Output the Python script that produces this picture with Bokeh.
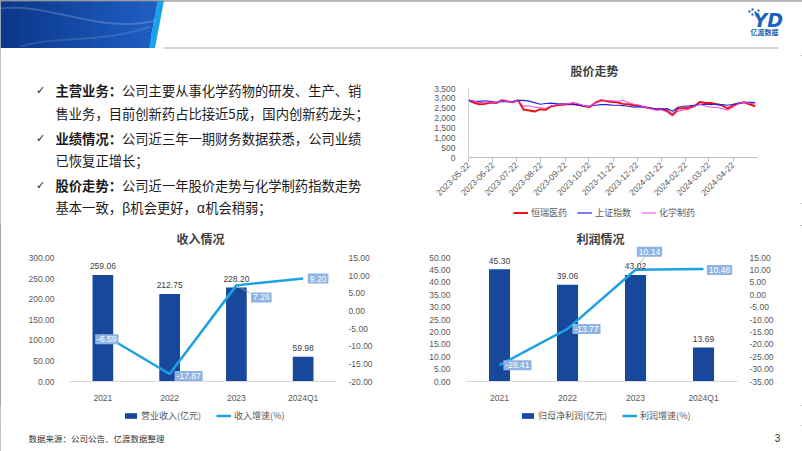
import numpy as np
import pandas as pd
from bokeh.plotting import figure
from bokeh.layouts import column, row
from bokeh.models import (Range1d, FactorRange, LinearAxis, NumeralTickFormatter, FixedTicker,
                          SingleIntervalTicker, Label, LabelSet, ColumnDataSource, Legend,
                          LegendItem, DatetimeTickFormatter)
from bokeh.core.properties import value
from bokeh.embed import file_html
from bokeh.resources import INLINE

# ---------------- data ----------------
years = ["2021", "2022", "2023", "2024Q1"]
revenue = [259.06, 212.75, 228.20, 59.98]
revenue_growth = [-6.59, -17.87, 7.26, 9.20]
profit = [45.30, 39.06, 43.02, 13.69]
profit_growth = [-28.41, -13.77, 10.14, 10.48]
rev_series = ["营业收入(亿元)", "收入增速(%)"]
prof_series = ["归母净利润(亿元)", "利润增速(%)"]

stock_dates = ["2023-05-22", "2023-05-29", "2023-06-05", "2023-06-12", "2023-06-19", "2023-06-26",
               "2023-07-03", "2023-07-10", "2023-07-17", "2023-07-24", "2023-07-31", "2023-08-07",
               "2023-08-14", "2023-08-21", "2023-08-28", "2023-09-04", "2023-09-11", "2023-09-18",
               "2023-09-25", "2023-10-02", "2023-10-09", "2023-10-16", "2023-10-23", "2023-10-30",
               "2023-11-06", "2023-11-13", "2023-11-20", "2023-11-27", "2023-12-04", "2023-12-11",
               "2023-12-18", "2023-12-25", "2024-01-01", "2024-01-08", "2024-01-15", "2024-01-22",
               "2024-01-29", "2024-02-05", "2024-02-12", "2024-02-19", "2024-02-26", "2024-03-04",
               "2024-03-11", "2024-03-18", "2024-03-25", "2024-04-01", "2024-04-08", "2024-04-15",
               "2024-04-22", "2024-04-29", "2024-05-06", "2024-05-13", "2024-05-20"]
hengrui = [2900, 2780, 2700, 2720, 2790, 2760, 2900, 2850, 2800, 2900,
           2430, 2380, 2330, 2450, 2420, 2600, 2650, 2680, 2700, 2700,
           2680, 2600, 2560, 2780, 2900, 2870, 2820, 2800, 2720, 2700,
           2650, 2620, 2550, 2500, 2450, 2460, 2380, 2150, 2480, 2500,
           2520, 2600, 2820, 2760, 2760, 2700, 2650, 2480, 2640, 2750,
           2800, 2700, 2600]
sse = [2900, 2850, 2850, 2880, 2850, 2800, 2850, 2830, 2840, 2900,
       2900, 2860, 2780, 2700, 2740, 2760, 2730, 2720, 2700, 2700,
       2660, 2620, 2600, 2650, 2680, 2680, 2660, 2650, 2630, 2600,
       2560, 2580, 2560, 2500, 2450, 2450, 2480, 2350, 2550, 2600,
       2620, 2650, 2680, 2700, 2680, 2700, 2680, 2650, 2700, 2750,
       2800, 2800, 2780]
chem = [2950, 2850, 2780, 2800, 2820, 2780, 2880, 2850, 2800, 2880,
        2600, 2620, 2550, 2520, 2500, 2620, 2680, 2700, 2720, 2800,
        2720, 2620, 2580, 2750, 2850, 2880, 2880, 2850, 2900, 2800,
        2700, 2650, 2550, 2480, 2400, 2420, 2300, 2100, 2350, 2400,
        2450, 2600, 2700, 2600, 2550, 2550, 2480, 2400, 2550, 2750,
        2800, 2750, 2720]
stock_series = ["恒瑞医药", "上证指数", "化学制药"]
stock_axis_max = 3500
month_ticks = ["2023-05-22", "2023-06-22", "2023-07-22", "2023-08-22", "2023-09-22", "2023-10-22",
               "2023-11-22", "2023-12-22", "2024-01-22", "2024-02-22", "2024-03-22", "2024-04-22"]

bullets = [("主营业务：", "公司主要从事化学药物的研发、生产、销", "售业务，目前创新药占比接近5成，国内创新药龙头；"),
           ("业绩情况：", "公司近三年一期财务数据获悉，公司业绩", "已恢复正增长；"),
           ("股价走势：", "公司近一年股价走势与化学制药指数走势", "基本一致，β机会更好，α机会稍弱；")]

# ---------------- styles ----------------
CJK = "Noto Sans CJK SC"
NUM = "Liberation Sans"
BAR = "#17489C"
LINE = "#1DA1E4"
AXC = "#595959"
LBL_BG = "#8DB4E2"
TITLE_C = "#404040"
STOCK_COLORS = ["#ee1111", "#2323e0", "#ee44ee"]
STOCK_WIDTHS = [2, 1.2, 1]
NAN = float("nan")


def blank(w, h):
    f = figure(width=w, height=h, x_range=Range1d(0, w), y_range=Range1d(h, 0),
               toolbar_location=None, output_backend="svg", min_border=0,
               x_axis_type=None, y_axis_type=None, frame_align=False)
    f.outline_line_color = None
    f.background_fill_color = "white"
    f.border_fill_color = "white"
    return f


def legend_fig(w, h, kinds, labels, colors, widths, loc, spacing):
    """A strip holding only a legend (proxy renderers without visible data)."""
    f = blank(w, h)
    rends = []
    for kind, c, lw in zip(kinds, colors, widths):
        if kind == "bar":
            rends.append(f.vbar(x=[NAN], top=[NAN], width=1, fill_color=c, line_color=None))
        else:
            rends.append(f.line(x=[NAN, NAN], y=[NAN, NAN], line_color=c, line_width=lw))
    leg = Legend(items=[LegendItem(label=l, renderers=[r]) for l, r in zip(labels, rends)],
                 location=loc, orientation="horizontal", padding=0, margin=0, spacing=spacing,
                 glyph_width=15, glyph_height=7, label_standoff=3, border_line_color=None,
                 background_fill_alpha=0, label_text_font=CJK, label_text_font_size="9px",
                 label_text_color=AXC)
    f.add_layout(leg)
    return f


# ---------------- header ----------------
hdr = blank(802, 55)
c0 = np.array([11, 56, 138])
c1 = np.array([30, 92, 192])
nstrip = 15
for i in range(nstrip):
    t = i / (nstrip - 1)
    c = tuple(int(v) for v in (c0 * (1 - t) + c1 * t))
    hdr.quad(left=i * 10, right=i * 10 + 10.5, top=0, bottom=47.5,
             fill_color="#%02x%02x%02x" % c, line_color=None)
hdr.patch([148, 157.5, 148.5, 148], [0, 0, 47.5, 47.5], fill_color="#1e5cc0", line_color=None)
hdr.patch([157, 163.5, 154.5, 148.5], [0, 0, 47.5, 47.5], fill_color="#1aa3ea", line_color=None)
hdr.bezier(x0=[0], y0=[8], x1=[155], y1=[20], cx0=[50], cy0=[2], cx1=[100], cy1=[34],
           line_color="white", line_alpha=0.18, line_width=2)
hdr.bezier(x0=[20], y0=[46], x1=[150], y1=[26], cx0=[60], cy0=[34], cx1=[100], cy1=[44],
           line_color="white", line_alpha=0.12, line_width=2)
hdr.line([0, 802], [0.5, 0.5], line_color="#7f7f7f", line_width=1)
hdr.line([163, 778], [47.5, 47.5], line_color="#c8c8c8", line_width=1.5)
hdr.quad(left=[748, 751, 754, 751, 755, 757], right=[750, 753, 756, 753, 757, 759],
         top=[10, 8, 11, 13, 14, 9], bottom=[12, 10, 13, 15, 16, 11], fill_color="#1a5fb4",
         line_color=None)
hdr.text(x=[753], y=[19], text=["YD"], text_font=value("DejaVu Sans"), text_font_size="19px",
         text_font_style="bold italic", text_color="#1a62c0", text_baseline="middle")
hdr.text(x=[764], y=[31.5], text=["亿渡数据"], text_font=value(CJK), text_font_size="7px",
         text_font_style="bold", text_color="#1a5fb4", text_align="center", text_baseline="middle")

# ---------------- text block ----------------
txt = blank(418, 170)
line_y = [35, 58, 83, 105, 130, 152]
FS = 13.3
for k, (head, body1, body2) in enumerate(bullets):
    y1, y2 = line_y[2 * k], line_y[2 * k + 1]
    txt.text(x=[40], y=[y1], text=["✓"], text_font=value("DejaVu Sans"), text_font_size="11px",
             text_color="#222222", text_baseline="middle", text_align="center")
    txt.text(x=[55], y=[y1], text=[head], text_font=value(CJK), text_font_size=f"{FS}px",
             text_font_style="bold", text_color="#1a1a1a", text_baseline="middle")
    txt.text(x=[55 + FS * len(head)], y=[y1], text=[body1], text_font=value(CJK),
             text_font_size=f"{FS}px", text_color="#1a1a1a", text_baseline="middle")
    txt.text(x=[55], y=[y2], text=[body2], text_font=value(CJK), text_font_size=f"{FS}px",
             text_color="#1a1a1a", text_baseline="middle")

# ---------------- stock chart ----------------
S_H = 148
S_FRAME_H = 102   # frame height (px); axis 0..3500 occupies the lowest 69 px
S_AXIS_H = 69
dates = pd.to_datetime(stock_dates)
x0, x1 = pd.Timestamp("2023-05-22"), pd.Timestamp("2024-05-23")
stk = figure(width=384, height=S_H, x_axis_type="datetime", x_range=Range1d(x0, x1),
             y_range=Range1d(0, stock_axis_max * S_FRAME_H / S_AXIS_H),
             toolbar_location=None, output_backend="svg", frame_align=False,
             min_border_left=50, min_border_right=45, min_border_top=0,
             min_border_bottom=S_H - S_FRAME_H)
stk.xgrid.visible = False
stk.ygrid.visible = False
stk.outline_line_color = None
for series, c, lw in zip([hengrui, sse, chem], STOCK_COLORS, STOCK_WIDTHS):
    stk.line(dates, series, line_color=c, line_width=lw)
xa = stk.xaxis[0]
xa.ticker = FixedTicker(ticks=[pd.Timestamp(d).timestamp() * 1000 for d in month_ticks])
fmt = "%Y-%m-%d"
xa.formatter = DatetimeTickFormatter(days=fmt, months=fmt, years=fmt, hours=fmt, minutes=fmt,
                                     hourmin=fmt, seconds=fmt, milliseconds=fmt, minsec=fmt)
xa.major_label_orientation = np.pi / 4
xa.axis_line_color = "#bfbfbf"
xa.major_tick_line_color = "#bfbfbf"
xa.major_tick_out = 4
xa.major_tick_in = 0
xa.minor_tick_line_color = None
xa.major_label_text_font = NUM
xa.major_label_text_font_size = "8.5px"
xa.major_label_text_color = AXC
xa.major_label_standoff = 2
ya = stk.yaxis[0]
ya.ticker = SingleIntervalTicker(interval=500)
ya.bounds = (0, stock_axis_max)
ya.formatter = NumeralTickFormatter(format="0,0")
ya.axis_line_color = "#d0d0d0"
ya.major_tick_line_color = None
ya.minor_tick_line_color = None
ya.major_label_text_font = NUM
ya.major_label_text_font_size = "8.5px"
ya.major_label_text_color = AXC
ya.major_label_standoff = 7
stk.add_layout(Label(x=x0 + (x1 - x0) / 2, y=stock_axis_max * S_FRAME_H / S_AXIS_H,
                     x_offset=-18.5, y_offset=-15, text="股价走势",
                     text_font=CJK, text_font_size="12px", text_font_style="bold",
                     text_color=TITLE_C, text_align="center", text_baseline="middle"))
stk_leg = legend_fig(384, 170 - S_H, ["line"] * 3, stock_series, STOCK_COLORS, STOCK_WIDTHS,
                     (95, 6), 10)


# ---------------- combo charts ----------------
C_H = 180
C_FRAME_H = 158


def combo(width, vals, growth, left_max, left_step, right_rng, mleft, mright, axis_h,
          lbl_offsets, leaders, title, title_dx):
    k = C_FRAME_H / axis_h
    rmin, rmax = right_rng
    p = figure(width=width, height=C_H, x_range=FactorRange(*years),
               y_range=Range1d(0, left_max * k), toolbar_location=None, output_backend="svg",
               frame_align=False, min_border_left=mleft, min_border_right=mright,
               min_border_top=0, min_border_bottom=C_H - C_FRAME_H)
    p.xgrid.visible = False
    p.ygrid.visible = False
    p.outline_line_color = None
    p.extra_y_ranges = {"pct": Range1d(rmin, rmin + (rmax - rmin) * k)}
    src = ColumnDataSource(dict(x=years, top=vals, lbl=[f"{v:.2f}" for v in vals]))
    p.vbar(x="x", top="top", width=0.31, source=src, fill_color=BAR, line_color=None)
    # thin leader lines from some points to their (displaced) data labels
    cat_px = (width - mleft - mright) / len(years)
    pct_px = (rmax - rmin) / axis_h
    lx0, ly0, lx1, ly1 = [], [], [], []
    for i, (g, ld) in enumerate(zip(growth, leaders)):
        if ld is not None:
            lx0.append(i + 0.5)
            ly0.append(g)
            lx1.append(i + 0.5 + ld[0] / cat_px)
            ly1.append(g + ld[1] * pct_px)
    if lx0:
        p.segment(x0=lx0, y0=ly0, x1=lx1, y1=ly1, y_range_name="pct", line_color="#a6a6a6",
                  line_width=0.8)
    p.line(x=years, y=growth, y_range_name="pct", line_color=LINE, line_width=2.5)
    la = p.yaxis[0]
    la.ticker = SingleIntervalTicker(interval=left_step)
    la.bounds = (0, left_max)
    ra = LinearAxis(y_range_name="pct", ticker=SingleIntervalTicker(interval=5), bounds=(rmin, rmax))
    p.add_layout(ra, "right")
    for ax, so in ((la, 9), (ra, 6)):
        ax.formatter = NumeralTickFormatter(format="0.00")
        ax.axis_line_color = None
        ax.major_tick_line_color = None
        ax.minor_tick_line_color = None
        ax.major_label_text_font = NUM
        ax.major_label_text_font_size = "8.5px"
        ax.major_label_text_color = AXC
        ax.major_label_standoff = so
    xa = p.xaxis[0]
    xa.axis_line_color = "#d9d9d9"
    xa.major_tick_line_color = None
    xa.major_label_text_font = NUM
    xa.major_label_text_font_size = "8.5px"
    xa.major_label_text_color = AXC
    xa.major_label_standoff = 5
    p.add_layout(LabelSet(x="x", y="top", text="lbl", source=src, text_align="center",
                          text_baseline="middle", y_offset=8.5, text_font=value(NUM),
                          text_font_size="8.5px", text_color=TITLE_C))
    for i, (g, (dx, dy)) in enumerate(zip(growth, lbl_offsets)):
        # categorical synthetic coordinate: centre of the i-th factor
        p.add_layout(Label(x=i + 0.5, y=g, y_range_name="pct", text=f"{g:.2f}", x_offset=dx,
                           y_offset=dy, text_align="center", text_baseline="middle",
                           text_color="white", text_font=NUM, text_font_size="8.5px",
                           background_fill_color=LBL_BG, padding=2))
    p.add_layout(Label(x=len(years) / 2, y=left_max * k, x_offset=title_dx, y_offset=-13,
                       text=title, text_font=CJK, text_font_size="12px", text_font_style="bold",
                       text_color=TITLE_C, text_align="center", text_baseline="middle"))
    return p


rev = combo(405, revenue, revenue_growth, 300, 50, (-20, 15), 69, 69, 125,
            [(4, -5), (19, -2), (25, -12), (15, 0)], [None, None, (14, -8), None],
            "收入情况", -2.5)
prf = combo(397, profit, profit_growth, 50, 5, (-35, 15), 60, 65, 125.4,
            [(18, 0), (19, 0), (14, 18), (16, -1)], [None, None, (9, 13), None],
            "利润情况", -1)
rev_leg = legend_fig(405, 200 - C_H, ["bar", "line"], rev_series, [BAR, LINE], [0, 2.5],
                     (123, 3), 15)
prf_leg = legend_fig(397, 200 - C_H, ["bar", "line"], prof_series, [BAR, LINE], [0, 2.5],
                     (115, 3), 15)

# ---------------- footer ----------------
ftr = blank(802, 26)
ftr.text(x=[28], y=[12], text=["数据来源：公司公告、亿渡数据整理"], text_font=value(CJK),
         text_font_size="8.5px", text_color="#333333", text_baseline="middle")
ftr.text(x=[777], y=[12], text=["3"], text_font=value(NUM), text_font_size="10px",
         text_color="#333333", text_baseline="middle", text_align="center")

page = column(hdr, row(txt, column(stk, stk_leg)), row(column(rev, rev_leg), column(prf, prf_leg)), ftr,
              styles={"outline": "1px solid #8a8a8a", "outline-offset": "-1px"})
open("out.html", "w").write(file_html(page, INLINE))
